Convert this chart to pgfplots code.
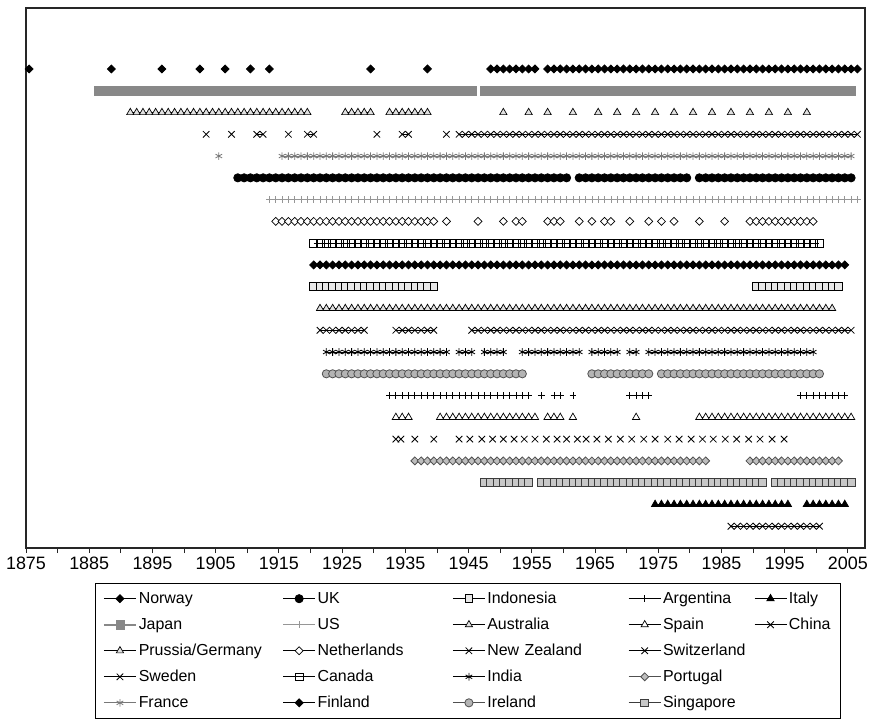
\documentclass[border=0pt]{standalone}
\usepackage{pgfplots}
\pgfplotsset{compat=1.18}
\usepackage{fontspec}
\setmainfont{Liberation Sans}
\definecolor{jp}{RGB}{136,136,136}
\definecolor{usg}{RGB}{150,150,150}
\definecolor{frg}{RGB}{120,120,120}
\definecolor{irf}{RGB}{180,180,180}
\definecolor{irl}{RGB}{80,80,80}
\definecolor{ptf}{RGB}{190,190,190}
\definecolor{ptl}{RGB}{80,80,80}
\definecolor{sgf}{RGB}{200,200,200}
\definecolor{sgl}{RGB}{60,60,60}
\definecolor{idf}{RGB}{232,232,232}
\definecolor{trf}{RGB}{225,225,225}
\pgfplotsset{
 sNor/.style={black, line width=0.8bp, mark=square*, mark size=2.8bp, mark options={solid, rotate=45, fill=black}},
 sJap/.style={jp, line width=1.6bp, mark=square*, mark size=4.2bp, mark options={solid, fill=jp, draw=jp, line width=0.5bp}},
 sPru/.style={black, line width=0.8bp, mark=triangle*, mark size=4.2bp, mark options={solid, fill=trf, line width=0.7bp}},
 sSwe/.style={black, line width=0.8bp, mark=x, mark size=4.6bp},
 sFra/.style={frg, line width=0.8bp, mark=asterisk, mark size=3.8bp},
 sUK/.style={black, line width=0.8bp, mark=*, mark size=4.1bp},
 sUS/.style={usg, line width=0.6bp, mark=+, mark size=3.4bp},
 sNet/.style={black, line width=0.8bp, mark=square*, mark size=2.8bp, mark options={solid, rotate=45, fill=white, line width=0.7bp}},
 sCan/.style={black, line width=0.8bp, mark=square, mark size=3.9bp, mark options={solid, line width=0.7bp}},
 sFin/.style={sNor},
 sIdn/.style={black, line width=0.8bp, mark=square*, mark size=3.9bp, mark options={solid, fill=idf, line width=0.7bp}},
 sAus/.style={black, line width=0.8bp, mark=triangle*, mark size=4.2bp, mark options={solid, fill=trf, line width=0.7bp}},
 sNZ/.style={sSwe},
 sInd/.style={black, line width=0.8bp, mark=asterisk, mark size=3.8bp},
 sIre/.style={irl, line width=0.8bp, mark=*, mark size=4.1bp, mark options={solid, fill=irf, draw=irl}},
 sArg/.style={black, line width=0.8bp, mark=+, mark size=3.4bp},
 sSpa/.style={black, line width=0.8bp, mark=triangle*, mark size=4.2bp, mark options={solid, fill=white, line width=0.7bp}},
 sSwi/.style={sSwe},
 sPor/.style={ptl, line width=0.8bp, mark=square*, mark size=2.8bp, mark options={solid, rotate=45, fill=ptf, draw=ptl}},
 sSgp/.style={sgl, line width=0.8bp, mark=square*, mark size=3.9bp, mark options={solid, fill=sgf, draw=sgl}},
 sIta/.style={black, line width=0.8bp, mark=triangle*, mark size=4.2bp, mark options={solid, fill=black}},
 sChn/.style={sSwe},
}
\begin{document}
\begin{tikzpicture}
\path[use as bounding box] (0,0) rectangle (871bp,727bp);
\begin{axis}[
  at={(26bp,179bp)}, anchor=south west,
  scale only axis, width=839bp, height=540bp,
  xmin=1874.5, xmax=2007.2, ymin=0, ymax=24.8,
  axis line style={line width=1.1bp, black!85},
  xtick={1874.5,1884.5,1894.5,1904.5,1914.5,1924.5,1934.5,1944.5,1954.5,1964.5,1974.5,1984.5,1994.5,2004.5},
  xticklabels={1875,1885,1895,1905,1915,1925,1935,1945,1955,1965,1975,1985,1995,2005},
  minor xtick={1879.5,1889.5,1899.5,1909.5,1919.5,1929.5,1939.5,1949.5,1959.5,1969.5,1979.5,1989.5,1999.5},
  xtick pos=left, tick align=outside, major tick length=5bp, minor tick length=5bp,
  tick style={line width=0.9bp, black!85},
  ytick=\empty,
  xticklabel style={font=\fontsize{18}{20}\selectfont},
  /pgf/number format/assume math mode=true,
  unbounded coords=jump,
  clip=false,
  legend columns=5,
  legend cell align=left,
  legend image code/.code={\draw[mark repeat=2,mark phase=2] plot coordinates {(0bp,0bp) (16bp,0bp) (32bp,0bp)};},
  legend style={at={(0.0822,-0.0648)}, anchor=north west, draw=black, font=\fontsize{16}{18}\selectfont,
    inner xsep=8bp, inner ysep=7bp, row sep=9bp,
    /tikz/column 2/.style={nodes={text width=142bp}},
    /tikz/column 4/.style={nodes={text width=133bp}},
    /tikz/column 6/.style={nodes={text width=139bp}},
    /tikz/column 8/.style={nodes={text width=89bp}}},
]
% Norway
\addplot[sNor, forget plot] table[header=false, x index=0, y expr=22, row sep=\\]{
1875\\nan\\1888\\nan\\1896\\nan\\1902\\nan\\1906\\nan\\1910\\nan\\1913\\nan\\1929\\nan\\1938\\nan\\
1948\\1949\\1950\\1951\\1952\\1953\\1954\\1955\\nan\\
1957\\1958\\1959\\1960\\1961\\1962\\1963\\1964\\1965\\1966\\1967\\1968\\1969\\1970\\1971\\1972\\1973\\1974\\1975\\1976\\1977\\1978\\1979\\1980\\1981\\1982\\1983\\1984\\1985\\1986\\1987\\1988\\1989\\1990\\1991\\1992\\1993\\1994\\1995\\1996\\1997\\1998\\1999\\2000\\2001\\2002\\2003\\2004\\2005\\2006\\
};
% Japan
\addplot[sJap, forget plot] table[header=false, x index=0, y expr=21, row sep=\\]{
1886\\1887\\1888\\1889\\1890\\1891\\1892\\1893\\1894\\1895\\1896\\1897\\1898\\1899\\1900\\1901\\1902\\1903\\1904\\1905\\1906\\1907\\1908\\1909\\1910\\1911\\1912\\1913\\1914\\1915\\1916\\1917\\1918\\1919\\1920\\1921\\1922\\1923\\1924\\1925\\1926\\1927\\1928\\1929\\1930\\1931\\1932\\1933\\1934\\1935\\1936\\1937\\1938\\1939\\1940\\1941\\1942\\1943\\1944\\1945\\nan\\
1947\\1948\\1949\\1950\\1951\\1952\\1953\\1954\\1955\\1956\\1957\\1958\\1959\\1960\\1961\\1962\\1963\\1964\\1965\\1966\\1967\\1968\\1969\\1970\\1971\\1972\\1973\\1974\\1975\\1976\\1977\\1978\\1979\\1980\\1981\\1982\\1983\\1984\\1985\\1986\\1987\\1988\\1989\\1990\\1991\\1992\\1993\\1994\\1995\\1996\\1997\\1998\\1999\\2000\\2001\\2002\\2003\\2004\\2005\\
};
% Prussia/Germany
\addplot[sPru, forget plot] table[header=false, x index=0, y expr=20, row sep=\\]{
1891\\1892\\1893\\1894\\1895\\1896\\1897\\1898\\1899\\1900\\1901\\1902\\1903\\1904\\1905\\1906\\1907\\1908\\1909\\1910\\1911\\1912\\1913\\1914\\1915\\1916\\1917\\1918\\1919\\nan\\
1925\\1926\\1927\\1928\\1929\\nan\\1932\\1933\\1934\\1935\\1936\\1937\\1938\\nan\\
1950\\nan\\1954\\nan\\1957\\nan\\1961\\nan\\1965\\nan\\1968\\nan\\1971\\nan\\1974\\nan\\1977\\nan\\1980\\nan\\1983\\nan\\1986\\nan\\1989\\nan\\1992\\nan\\1995\\nan\\1998\\
};
% Sweden
\addplot[sSwe, forget plot] table[header=false, x index=0, y expr=19, row sep=\\]{
1903\\nan\\1907\\nan\\1911\\1912\\nan\\1916\\nan\\1919\\1920\\nan\\1930\\nan\\1934\\1935\\nan\\1941\\nan\\
1943\\1944\\1945\\1946\\1947\\1948\\1949\\1950\\1951\\1952\\1953\\1954\\1955\\1956\\1957\\1958\\1959\\1960\\1961\\1962\\1963\\1964\\1965\\1966\\1967\\1968\\1969\\1970\\1971\\1972\\1973\\1974\\1975\\1976\\1977\\1978\\1979\\1980\\1981\\1982\\1983\\1984\\1985\\1986\\1987\\1988\\1989\\1990\\1991\\1992\\1993\\1994\\1995\\1996\\1997\\1998\\1999\\2000\\2001\\2002\\2003\\2004\\2005\\2006\\
};
% France
\addplot[sFra, forget plot] table[header=false, x index=0, y expr=18, row sep=\\]{
1905\\nan\\
1915\\1916\\1917\\1918\\1919\\1920\\1921\\1922\\1923\\1924\\1925\\1926\\1927\\1928\\1929\\1930\\1931\\1932\\1933\\1934\\1935\\1936\\1937\\1938\\1939\\1940\\1941\\1942\\1943\\1944\\1945\\1946\\1947\\1948\\1949\\1950\\1951\\1952\\1953\\1954\\1955\\1956\\1957\\1958\\1959\\1960\\1961\\1962\\1963\\1964\\1965\\1966\\1967\\1968\\1969\\1970\\1971\\1972\\1973\\1974\\1975\\1976\\1977\\1978\\1979\\1980\\1981\\1982\\1983\\1984\\1985\\1986\\1987\\1988\\1989\\1990\\1991\\1992\\1993\\1994\\1995\\1996\\1997\\1998\\1999\\2000\\2001\\2002\\2003\\2004\\2005\\
};
% UK
\addplot[sUK, forget plot] table[header=false, x index=0, y expr=17, row sep=\\]{
1908\\1909\\1910\\1911\\1912\\1913\\1914\\1915\\1916\\1917\\1918\\1919\\1920\\1921\\1922\\1923\\1924\\1925\\1926\\1927\\1928\\1929\\1930\\1931\\1932\\1933\\1934\\1935\\1936\\1937\\1938\\1939\\1940\\1941\\1942\\1943\\1944\\1945\\1946\\1947\\1948\\1949\\1950\\1951\\1952\\1953\\1954\\1955\\1956\\1957\\1958\\1959\\1960\\nan\\
1962\\1963\\1964\\1965\\1966\\1967\\1968\\1969\\1970\\1971\\1972\\1973\\1974\\1975\\1976\\1977\\1978\\1979\\nan\\
1981\\1982\\1983\\1984\\1985\\1986\\1987\\1988\\1989\\1990\\1991\\1992\\1993\\1994\\1995\\1996\\1997\\1998\\1999\\2000\\2001\\2002\\2003\\2004\\2005\\
};
% US
\addplot[sUS, forget plot] table[header=false, x index=0, y expr=16, row sep=\\]{
1913\\1914\\1915\\1916\\1917\\1918\\1919\\1920\\1921\\1922\\1923\\1924\\1925\\1926\\1927\\1928\\1929\\1930\\1931\\1932\\1933\\1934\\1935\\1936\\1937\\1938\\1939\\1940\\1941\\1942\\1943\\1944\\1945\\1946\\1947\\1948\\1949\\1950\\1951\\1952\\1953\\1954\\1955\\1956\\1957\\1958\\1959\\1960\\1961\\1962\\1963\\1964\\1965\\1966\\1967\\1968\\1969\\1970\\1971\\1972\\1973\\1974\\1975\\1976\\1977\\1978\\1979\\1980\\1981\\1982\\1983\\1984\\1985\\1986\\1987\\1988\\1989\\1990\\1991\\1992\\1993\\1994\\1995\\1996\\1997\\1998\\1999\\2000\\2001\\2002\\2003\\2004\\2005\\2006\\
};
% Netherlands
\addplot[sNet, forget plot] table[header=false, x index=0, y expr=15, row sep=\\]{
1914\\1915\\1916\\1917\\1918\\1919\\1920\\1921\\1922\\1923\\1924\\1925\\1926\\1927\\1928\\1929\\1930\\1931\\1932\\1933\\1934\\1935\\1936\\1937\\1938\\1939\\nan\\
1941\\nan\\1946\\nan\\1950\\nan\\1952\\1953\\nan\\1957\\1958\\1959\\nan\\1962\\nan\\1964\\nan\\1966\\1967\\nan\\1970\\nan\\1973\\nan\\1975\\nan\\1977\\nan\\1981\\nan\\1985\\nan\\
1989\\1990\\1991\\1992\\1993\\1994\\1995\\1996\\1997\\1998\\1999\\
};
% Canada
\addplot[sCan, forget plot] table[header=false, x index=0, y expr=14, row sep=\\]{
1920\\1921\\1922\\1923\\1924\\1925\\1926\\1927\\1928\\1929\\1930\\1931\\1932\\1933\\1934\\1935\\1936\\1937\\1938\\1939\\1940\\1941\\1942\\1943\\1944\\1945\\1946\\1947\\1948\\1949\\1950\\1951\\1952\\1953\\1954\\1955\\1956\\1957\\1958\\1959\\1960\\1961\\1962\\1963\\1964\\1965\\1966\\1967\\1968\\1969\\1970\\1971\\1972\\1973\\1974\\1975\\1976\\1977\\1978\\1979\\1980\\1981\\1982\\1983\\1984\\1985\\1986\\1987\\1988\\1989\\1990\\1991\\1992\\1993\\1994\\1995\\1996\\1997\\1998\\1999\\2000\\
};
% Finland
\addplot[sFin, forget plot] table[header=false, x index=0, y expr=13, row sep=\\]{
1920\\1921\\1922\\1923\\1924\\1925\\1926\\1927\\1928\\1929\\1930\\1931\\1932\\1933\\1934\\1935\\1936\\1937\\1938\\1939\\1940\\1941\\1942\\1943\\1944\\1945\\1946\\1947\\1948\\1949\\1950\\1951\\1952\\1953\\1954\\1955\\1956\\1957\\1958\\1959\\1960\\1961\\1962\\1963\\1964\\1965\\1966\\1967\\1968\\1969\\1970\\1971\\1972\\1973\\1974\\1975\\1976\\1977\\1978\\1979\\1980\\1981\\1982\\1983\\1984\\1985\\1986\\1987\\1988\\1989\\1990\\1991\\1992\\1993\\1994\\1995\\1996\\1997\\1998\\1999\\2000\\2001\\2002\\2003\\2004\\
};
% Indonesia
\addplot[sIdn, forget plot] table[header=false, x index=0, y expr=12, row sep=\\]{
1920\\1921\\1922\\1923\\1924\\1925\\1926\\1927\\1928\\1929\\1930\\1931\\1932\\1933\\1934\\1935\\1936\\1937\\1938\\1939\\nan\\
1990\\1991\\1992\\1993\\1994\\1995\\1996\\1997\\1998\\1999\\2000\\2001\\2002\\2003\\
};
% Australia
\addplot[sAus, forget plot] table[header=false, x index=0, y expr=11, row sep=\\]{
1921\\1922\\1923\\1924\\1925\\1926\\1927\\1928\\1929\\1930\\1931\\1932\\1933\\1934\\1935\\1936\\1937\\1938\\1939\\1940\\1941\\1942\\1943\\1944\\1945\\1946\\1947\\1948\\1949\\1950\\1951\\1952\\1953\\1954\\1955\\1956\\1957\\1958\\1959\\1960\\1961\\1962\\1963\\1964\\1965\\1966\\1967\\1968\\1969\\1970\\1971\\1972\\1973\\1974\\1975\\1976\\1977\\1978\\1979\\1980\\1981\\1982\\1983\\1984\\1985\\1986\\1987\\1988\\1989\\1990\\1991\\1992\\1993\\1994\\1995\\1996\\1997\\1998\\1999\\2000\\2001\\2002\\
};
% New Zealand
\addplot[sNZ, forget plot] table[header=false, x index=0, y expr=10, row sep=\\]{
1921\\1922\\1923\\1924\\1925\\1926\\1927\\1928\\nan\\1933\\1934\\1935\\1936\\1937\\1938\\1939\\nan\\
1945\\1946\\1947\\1948\\1949\\1950\\1951\\1952\\1953\\1954\\1955\\1956\\1957\\1958\\1959\\1960\\1961\\1962\\1963\\1964\\1965\\1966\\1967\\1968\\1969\\1970\\1971\\1972\\1973\\1974\\1975\\1976\\1977\\1978\\1979\\1980\\1981\\1982\\1983\\1984\\1985\\1986\\1987\\1988\\1989\\1990\\1991\\1992\\1993\\1994\\1995\\1996\\1997\\1998\\1999\\2000\\2001\\2002\\2003\\2004\\2005\\
};
% India
\addplot[sInd, forget plot] table[header=false, x index=0, y expr=9, row sep=\\]{
1922\\1923\\1924\\1925\\1926\\1927\\1928\\1929\\1930\\1931\\1932\\1933\\1934\\1935\\1936\\1937\\1938\\1939\\1940\\1941\\nan\\
1943\\1944\\1945\\nan\\1947\\1948\\1949\\1950\\nan\\1953\\1954\\1955\\1956\\1957\\1958\\1959\\1960\\1961\\1962\\nan\\
1964\\1965\\1966\\1967\\1968\\nan\\1970\\1971\\nan\\
1973\\1974\\1975\\1976\\1977\\1978\\1979\\1980\\1981\\1982\\1983\\1984\\1985\\1986\\1987\\1988\\1989\\1990\\1991\\1992\\1993\\1994\\1995\\1996\\1997\\1998\\1999\\
};
% Ireland
\addplot[sIre, forget plot] table[header=false, x index=0, y expr=8, row sep=\\]{
1922\\1923\\1924\\1925\\1926\\1927\\1928\\1929\\1930\\1931\\1932\\1933\\1934\\1935\\1936\\1937\\1938\\1939\\1940\\1941\\1942\\1943\\1944\\1945\\1946\\1947\\1948\\1949\\1950\\1951\\1952\\1953\\nan\\
1964\\1965\\1966\\1967\\1968\\1969\\1970\\1971\\1972\\1973\\nan\\
1975\\1976\\1977\\1978\\1979\\1980\\1981\\1982\\1983\\1984\\1985\\1986\\1987\\1988\\1989\\1990\\1991\\1992\\1993\\1994\\1995\\1996\\1997\\1998\\1999\\2000\\
};
% Argentina
\addplot[sArg, forget plot] table[header=false, x index=0, y expr=7, row sep=\\]{
1932\\1933\\1934\\1935\\1936\\1937\\1938\\1939\\1940\\1941\\1942\\1943\\1944\\1945\\1946\\1947\\1948\\1949\\1950\\1951\\1952\\1953\\1954\\nan\\
1956\\nan\\1958\\1959\\nan\\1961\\nan\\1970\\1971\\1972\\1973\\nan\\
1997\\1998\\1999\\2000\\2001\\2002\\2003\\2004\\
};
% Spain
\addplot[sSpa, forget plot] table[header=false, x index=0, y expr=6, row sep=\\]{
1933\\1934\\1935\\nan\\
1940\\1941\\1942\\1943\\1944\\1945\\1946\\1947\\1948\\1949\\1950\\1951\\1952\\1953\\1954\\1955\\nan\\
1957\\1958\\1959\\nan\\1961\\nan\\1971\\nan\\
1981\\1982\\1983\\1984\\1985\\1986\\1987\\1988\\1989\\1990\\1991\\1992\\1993\\1994\\1995\\1996\\1997\\1998\\1999\\2000\\2001\\2002\\2003\\2004\\2005\\
};
% Switzerland
\addplot[sSwi, only marks, forget plot] table[header=false, x index=0, y expr=5, row sep=\\]{
1933\\1933.8\\1936\\1939\\1943.0\\1944.7\\1946.6\\1948.3\\1950.0\\1951.7\\1953.3\\1955.0\\1956.8\\1958.5\\1960.0\\1961.7\\1963.1\\1964.8\\1966.6\\1968.5\\1970.3\\1972.2\\1974.0\\1976.0\\1977.8\\1979.7\\1981.5\\1983.2\\1985.1\\1986.9\\1988.8\\1990.6\\1992.5\\1994.4\\
};
% Portugal
\addplot[sPor, forget plot] table[header=false, x index=0, y expr=4, row sep=\\]{
1936\\1937\\1938\\1939\\1940\\1941\\1942\\1943\\1944\\1945\\1946\\1947\\1948\\1949\\1950\\1951\\1952\\1953\\1954\\1955\\1956\\1957\\1958\\1959\\1960\\1961\\1962\\1963\\1964\\1965\\1966\\1967\\1968\\1969\\1970\\1971\\1972\\1973\\1974\\1975\\1976\\1977\\1978\\1979\\1980\\1981\\1982\\nan\\
1989\\1990\\1991\\1992\\1993\\1994\\1995\\1996\\1997\\1998\\1999\\2000\\2001\\2002\\2003\\
};
% Singapore
\addplot[sSgp, forget plot] table[header=false, x index=0, y expr=3, row sep=\\]{
1947\\1948\\1949\\1950\\1951\\1952\\1953\\1954\\nan\\
1956\\1957\\1958\\1959\\1960\\1961\\1962\\1963\\1964\\1965\\1966\\1967\\1968\\1969\\1970\\1971\\1972\\1973\\1974\\1975\\1976\\1977\\1978\\1979\\1980\\1981\\1982\\1983\\1984\\1985\\1986\\1987\\1988\\1989\\1990\\1991\\nan\\
1993\\1994\\1995\\1996\\1997\\1998\\1999\\2000\\2001\\2002\\2003\\2004\\2005\\
};
% Italy
\addplot[sIta, forget plot] table[header=false, x index=0, y expr=2, row sep=\\]{
1974\\1975\\1976\\1977\\1978\\1979\\1980\\1981\\1982\\1983\\1984\\1985\\1986\\1987\\1988\\1989\\1990\\1991\\1992\\1993\\1994\\1995\\nan\\
1998\\1999\\2000\\2001\\2002\\2003\\2004\\
};
% China
\addplot[sChn, forget plot] table[header=false, x index=0, y expr=1, row sep=\\]{
1986\\1987\\1988\\1989\\1990\\1991\\1992\\1993\\1994\\1995\\1996\\1997\\1998\\1999\\2000\\
};
% legend (row-wise)
\addlegendimage{sNor}\addlegendentry{Norway}
\addlegendimage{sUK}\addlegendentry{UK}
\addlegendimage{sIdn}\addlegendentry{Indonesia}
\addlegendimage{sArg}\addlegendentry{Argentina}
\addlegendimage{sIta}\addlegendentry{Italy}
\addlegendimage{sJap}\addlegendentry{Japan}
\addlegendimage{sUS}\addlegendentry{US}
\addlegendimage{sAus}\addlegendentry{Australia}
\addlegendimage{sSpa}\addlegendentry{Spain}
\addlegendimage{sChn}\addlegendentry{China}
\addlegendimage{sPru}\addlegendentry{Prussia/Germany}
\addlegendimage{sNet}\addlegendentry{Netherlands}
\addlegendimage{sNZ}\addlegendentry{New Zealand}
\addlegendimage{sSwi}\addlegendentry{Switzerland}
\addlegendimage{empty legend}\addlegendentry{}
\addlegendimage{sSwe}\addlegendentry{Sweden}
\addlegendimage{sCan}\addlegendentry{Canada}
\addlegendimage{sInd}\addlegendentry{India}
\addlegendimage{sPor}\addlegendentry{Portugal}
\addlegendimage{empty legend}\addlegendentry{}
\addlegendimage{sFra}\addlegendentry{France}
\addlegendimage{sFin}\addlegendentry{Finland}
\addlegendimage{sIre}\addlegendentry{Ireland}
\addlegendimage{sSgp}\addlegendentry{Singapore}
\addlegendimage{empty legend}\addlegendentry{}
\end{axis}
\end{tikzpicture}
\end{document}
